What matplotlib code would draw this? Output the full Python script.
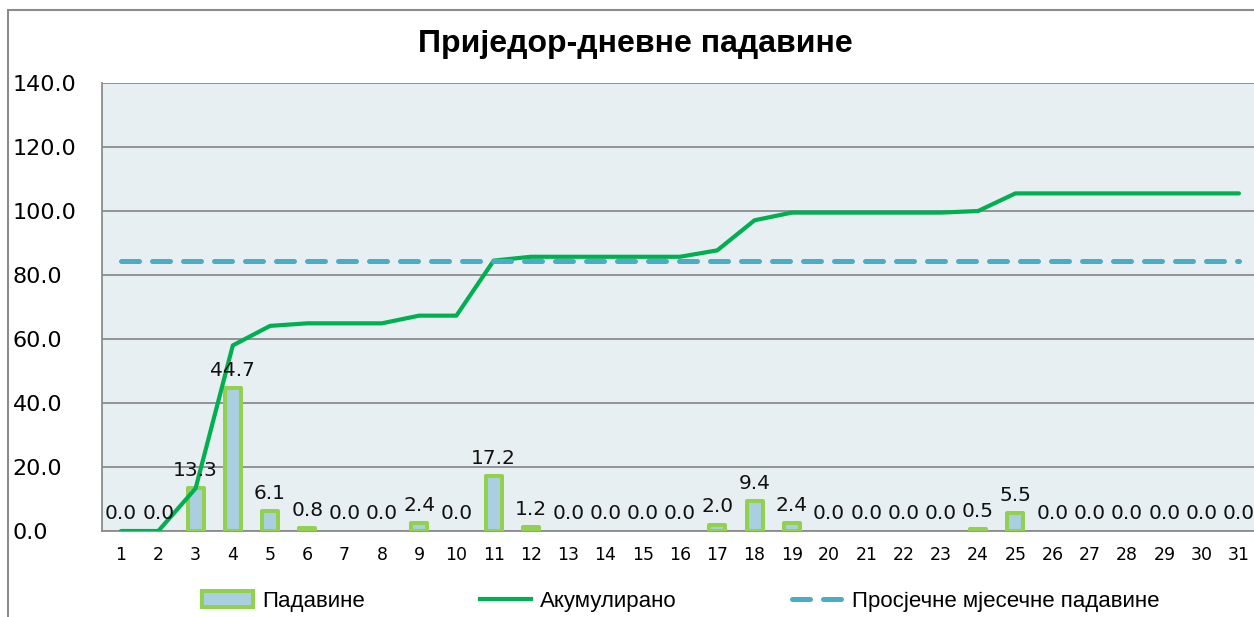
import matplotlib
matplotlib.use("Agg")
import matplotlib.pyplot as plt
from matplotlib.patches import Rectangle, Patch
from matplotlib.lines import Line2D

# дневне падавине по данима у мјесецу (mm)
days = list(range(1, 32))
rain = [0.0, 0.0, 13.3, 44.7, 6.1, 0.8, 0.0, 0.0, 2.4, 0.0,
        17.2, 1.2, 0.0, 0.0, 0.0, 0.0, 2.0, 9.4, 2.4, 0.0,
        0.0, 0.0, 0.0, 0.5, 5.5, 0.0, 0.0, 0.0, 0.0, 0.0, 0.0]
avg_monthly = 84.4
yticks = [0, 20, 40, 60, 80, 100, 120, 140]

# акумулирано
cumulative = []
total = 0.0
for r in rain:
    total += r
    cumulative.append(round(total, 1))

bar_face = "#A9CFE0"
bar_edge = "#92D050"
cum_color = "#00B050"
avg_color = "#4BACC6"
grid_color = "#8C8C8C"
legend_font = {"family": ["Liberation Sans Narrow", "Liberation Sans"], "size": 16}

fig = plt.figure(figsize=(12.54, 6.17), dpi=100)
fig.patches.append(Rectangle((8 / 1254, -0.1), 1.1, 1.1 - 10 / 617,
                             transform=fig.transFigure, fill=False,
                             edgecolor=grid_color, linewidth=1.5))

ax = fig.add_axes([102.4 / 1254, 86 / 617, (1257.6 - 102.4) / 1254, (531 - 83) / 617])
ax.set_facecolor("#E8EFF3")

# нулти дани без оквира
edges = [bar_edge if r > 0 else "none" for r in rain]
ax.bar(days, rain, width=0.43, color=bar_face, edgecolor=edges,
       linewidth=2.9, joinstyle="round", zorder=3)
ax.plot(days, cumulative, color=cum_color, linewidth=3.0,
        solid_capstyle="round", zorder=4)
ax.plot(days, [avg_monthly] * len(days), color=avg_color, linewidth=3.6,
        dashes=(3.6, 2.6), dash_capstyle="round", zorder=4)

for d, r in zip(days, rain):
    ax.annotate(f"{r:.1f}", (d, r), xytext=(0, 6), textcoords="offset points",
                ha="center", va="bottom", fontsize=14.5, color="#111111", zorder=5)

ax.set_xlim(0.5, 31.5)
ax.set_ylim(0, 140)
ax.set_yticks(yticks)
ax.set_yticklabels([f"{v:.1f}" for v in yticks], fontsize=16, ha="left")
ax.tick_params(axis="y", length=0, pad=64.5)
ax.set_xticks(days)
ax.set_xticklabels([str(d) for d in days], fontsize=12.5)
ax.tick_params(axis="x", length=0, pad=11)

ax.grid(axis="y", color=grid_color, linewidth=1.3, zorder=1)
ax.set_axisbelow(True)
for side in ["top", "right"]:
    ax.spines[side].set_visible(False)
ax.spines["left"].set_color(grid_color)
ax.spines["left"].set_linewidth(1.3)
ax.spines["bottom"].set_color(grid_color)
ax.spines["bottom"].set_linewidth(1.3)

fig.text(635 / 1254, 1 - 44 / 617, "Приједор-дневне падавине", ha="center",
         va="center", fontsize=23, fontweight="bold", family="Liberation Sans")

handles = [
    Patch(facecolor=bar_face, edgecolor=bar_edge, linewidth=2.9),
    Line2D([], [], color=cum_color, linewidth=3.0),
    Line2D([], [], color=avg_color, linewidth=3.6, dashes=(3.6, 2.6),
           dash_capstyle="round"),
]
labels = ["Падавине", "Акумулирано", "Просјечне мјесечне падавине"]
fig.legend(handles, labels, loc="center", bbox_to_anchor=(681 / 1254, 1 - 601 / 617),
           ncol=3, frameon=False, handlelength=2.3, handletextpad=0.4,
           columnspacing=5.2, prop=legend_font)

fig.savefig("out.png", dpi=100)
